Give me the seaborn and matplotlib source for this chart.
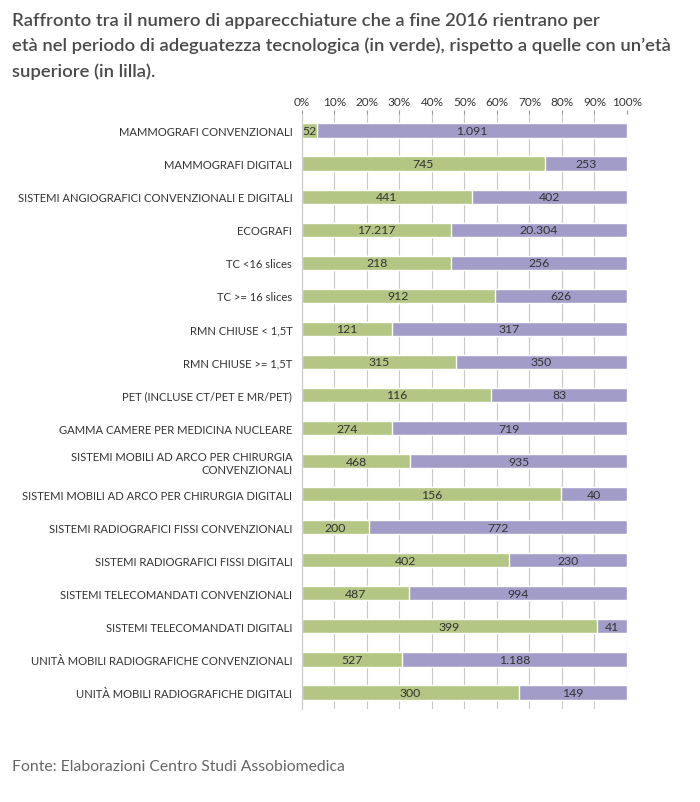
import numpy as np
import pandas as pd
import matplotlib.pyplot as plt
import seaborn as sns

## Data
categories = [
    "MAMMOGRAFI CONVENZIONALI",
    "MAMMOGRAFI DIGITALI",
    "SISTEMI ANGIOGRAFICI CONVENZIONALI E DIGITALI",
    "ECOGRAFI",
    "TC <16 slices",
    "TC >= 16 slices",
    "RMN CHIUSE < 1,5T",
    "RMN CHIUSE >= 1,5T",
    "PET (INCLUSE CT/PET E MR/PET)",
    "GAMMA CAMERE PER MEDICINA NUCLEARE",
    "SISTEMI MOBILI AD ARCO PER CHIRURGIA\nCONVENZIONALI",
    "SISTEMI MOBILI AD ARCO PER CHIRURGIA DIGITALI",
    "SISTEMI RADIOGRAFICI FISSI CONVENZIONALI",
    "SISTEMI RADIOGRAFICI FISSI DIGITALI",
    "SISTEMI TELECOMANDATI CONVENZIONALI",
    "SISTEMI TELECOMANDATI DIGITALI",
    "UNITÀ MOBILI RADIOGRAFICHE CONVENZIONALI",
    "UNITÀ MOBILI RADIOGRAFICHE DIGITALI",
]
in_periodo = [52, 745, 441, 17217, 218, 912, 121, 315, 116, 274, 468, 156, 200, 402, 487, 399, 527, 300]
oltre = [1091, 253, 402, 20304, 256, 626, 317, 350, 83, 719, 935, 40, 772, 230, 994, 41, 1188, 149]

df = pd.DataFrame({"cat": categories, "verde": in_periodo, "lilla": oltre})
df["tot"] = df["verde"] + df["lilla"]
df["pv"] = df["verde"] / df["tot"] * 100
df["full"] = 100.0

GREEN = "#b3c684"
LILAC = "#a29cc9"
TXT = "#333333"

sns.set_style("white")
plt.rcParams["font.family"] = ["Lato", "DejaVu Sans"]

fig = plt.figure(figsize=(7, 8.03), dpi=100)
ax = fig.add_axes([0.4314, 0.1158, 0.4643, 0.741])

sns.barplot(data=df, x="full", y="cat", color=LILAC, width=0.43, ax=ax, orient="h", saturation=1)
sns.barplot(data=df, x="pv", y="cat", color=GREEN, width=0.43, ax=ax, orient="h", saturation=1)


def fmt(v):
    return f"{v:,}".replace(",", ".")


for i, row in df.iterrows():
    ax.text(row["pv"] / 2, i, fmt(row["verde"]), ha="center", va="center", fontsize=8.8, color=TXT)
    ax.text((row["pv"] + 100) / 2, i, fmt(row["lilla"]), ha="center", va="center", fontsize=8.8, color=TXT)

ax.set_xlim(0, 100)
ax.set_ylim(len(categories) - 0.5, -0.5)
ax.set_xticks(np.arange(0, 101, 10))
ax.set_xticklabels([f"{t}%" for t in range(0, 101, 10)], fontsize=8.5, color=TXT)
ax.xaxis.tick_top()
ax.tick_params(axis="x", length=3, color="#999999", pad=2)
ax.set_yticks(range(len(categories)))
ax.set_yticklabels(categories, fontsize=8.1, color=TXT, ha="right")
ax.tick_params(axis="y", length=0, pad=7)
# small dashes between categories
ax.set_yticks(np.arange(-0.5, len(categories), 1), minor=True)
ax.tick_params(axis="y", which="minor", length=3, color="#999999")
ax.grid(axis="x", color="#c8c8c8", linewidth=0.8)
ax.set_axisbelow(True)
for s in ["top", "right", "bottom"]:
    ax.spines[s].set_visible(False)
ax.spines["left"].set_color("#c8c8c8")
ax.set_xlabel("")
ax.set_ylabel("")

fig.text(0.017, 0.984, "Raffronto tra il numero di apparecchiature che a fine 2016 rientrano per\n"
         "età nel periodo di adeguatezza tecnologica (in verde), rispetto a quelle con un’età\n"
         "superiore (in lilla).", ha="left", va="top", fontsize=13.3, color="#4a4a4a",
         linespacing=1.65, fontweight="semibold")
fig.text(0.017, 0.045, "Fonte: Elaborazioni Centro Studi Assobiomedica", ha="left", va="center",
         fontsize=11.3, color="#666666")

plt.savefig("out.png", dpi=100)
